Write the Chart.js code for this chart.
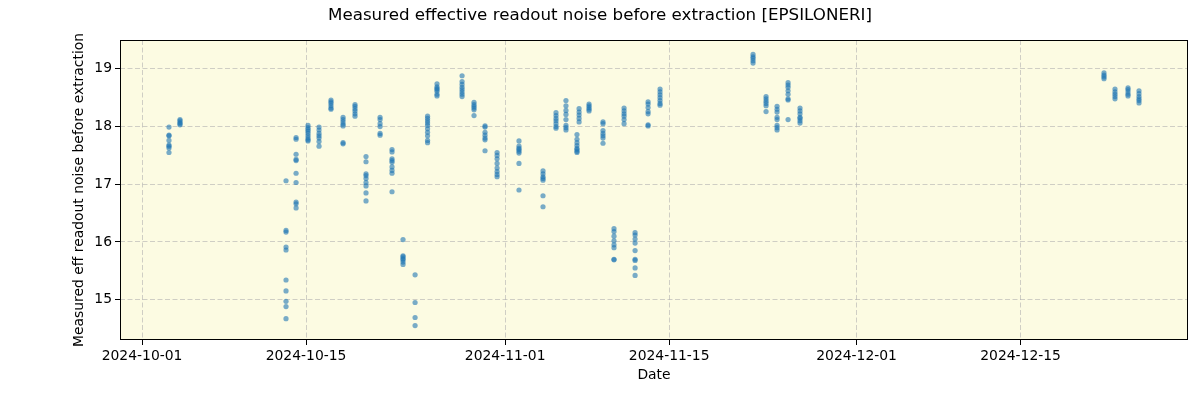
<!DOCTYPE html>
<html>
<head>
<meta charset="utf-8">
<script src="https://cdn.jsdelivr.net/npm/chart.js@4/dist/chart.umd.min.js"></script>
<style>
html,body{margin:0;padding:0;background:#fff;}
canvas{display:block;}
</style>
</head>
<body>
<canvas id="c" width="1200" height="400"></canvas>
<script>
const chartTitle = "Measured effective readout noise before extraction [EPSILONERI]";
const xTitle = "Date";
const yTitle = "Measured eff readout noise before extraction";

const nightTimes = [
  "2024-10-03T07:12","2024-10-04T05:45","2024-10-13T07:00","2024-10-14T03:36",
  "2024-10-15T04:05","2024-10-16T02:38","2024-10-17T03:07","2024-10-18T03:50",
  "2024-10-19T04:19","2024-10-20T02:53","2024-10-21T07:40","2024-10-22T08:10",
  "2024-10-23T06:43","2024-10-24T07:26","2024-10-25T09:00","2024-10-26T04:19",
  "2024-10-28T07:40","2024-10-29T08:10","2024-10-30T06:43","2024-10-31T07:26",
  "2024-11-02T04:19","2024-11-04T05:31","2024-11-05T08:10","2024-11-06T04:34",
  "2024-11-07T03:07","2024-11-07T07:26","2024-11-08T03:50","2024-11-09T08:24",
  "2024-11-10T06:58","2024-11-11T03:36","2024-11-12T02:10","2024-11-13T04:48",
  "2024-11-14T05:17","2024-11-22T03:50","2024-11-23T06:29","2024-11-24T05:02",
  "2024-11-25T03:36","2024-11-26T04:05","2024-12-22T02:53","2024-12-23T01:26",
  "2024-12-24T04:05","2024-12-25T02:38"
];

const nightNoise = [
  [17.99,17.85,17.84,17.76,17.68,17.66,17.63,17.55],
  [18.12,18.10,18.07,18.05,18.03],
  [17.06,16.20,16.17,15.91,15.86,15.34,15.15,14.97,14.88,14.67],
  [17.81,17.78,17.52,17.43,17.41,17.19,17.03,16.69,16.66,16.59],
  [18.02,17.98,17.95,17.92,17.88,17.84,17.80,17.77,17.75],
  [17.99,17.94,17.88,17.84,17.80,17.74,17.66],
  [18.46,18.43,18.40,18.36,18.32,18.30],
  [18.16,18.12,18.08,18.04,18.01,17.72,17.70],
  [18.38,18.35,18.31,18.27,18.22,18.18],
  [17.48,17.39,17.18,17.15,17.10,17.03,16.97,16.85,16.71],
  [18.16,18.12,18.05,18.00,17.88,17.85],
  [17.60,17.56,17.44,17.41,17.38,17.30,17.24,17.19,16.87],
  [16.04,15.76,15.74,15.71,15.69,15.65,15.61],
  [15.43,14.95,14.69,14.55],
  [18.18,18.14,18.10,18.06,18.02,17.96,17.90,17.84,17.76,17.72],
  [18.74,18.69,18.66,18.64,18.61,18.56,18.53],
  [18.88,18.78,18.73,18.68,18.64,18.60,18.56,18.52],
  [18.42,18.38,18.35,18.32,18.29,18.19],
  [18.01,17.99,17.90,17.85,17.80,17.77,17.58],
  [17.55,17.50,17.44,17.36,17.28,17.22,17.17,17.13],
  [17.75,17.66,17.62,17.60,17.57,17.54,17.36,16.90],
  [17.23,17.18,17.13,17.10,17.07,16.80,16.61],
  [18.24,18.19,18.14,18.10,18.05,18.00,17.97],
  [18.45,18.36,18.28,18.21,18.12,18.02,17.98,17.94],
  [17.86,17.78,17.72,17.67,17.62,17.60,17.57,17.55],
  [18.31,18.25,18.20,18.14,18.08],
  [18.39,18.36,18.33,18.30,18.27],
  [18.08,18.05,17.93,17.88,17.84,17.80,17.71],
  [16.23,16.18,16.10,16.02,15.95,15.90,15.70,15.69],
  [18.32,18.27,18.22,18.18,18.12,18.05],
  [16.16,16.12,16.05,15.98,15.85,15.70,15.68,15.55,15.42],
  [18.43,18.39,18.33,18.26,18.22,18.03,18.01],
  [18.65,18.60,18.55,18.50,18.45,18.40,18.37],
  [19.25,19.21,19.18,19.14,19.10],
  [18.52,18.48,18.44,18.40,18.36,18.26],
  [18.35,18.30,18.25,18.16,18.12,18.02,17.98,17.94],
  [18.76,18.72,18.68,18.62,18.56,18.48,18.46,18.12],
  [18.32,18.27,18.22,18.16,18.14,18.10,18.06],
  [18.93,18.89,18.86,18.83],
  [18.65,18.60,18.56,18.52,18.48],
  [18.67,18.64,18.60,18.56,18.53],
  [18.62,18.57,18.52,18.48,18.45,18.41]
];

const xTickDates = ["2024-10-01","2024-10-15","2024-11-01","2024-11-15","2024-12-01","2024-12-15"];
const yTickValues = [15,16,17,18,19];
const xRange = ["2024-09-29T02:50","2024-12-29T07:00"];
const yRange = [14.30,19.50];

const DAY = 86400000;
const origin = Date.UTC(2024,9,1);
function toDay(s){
  const [d,t] = s.split("T");
  const [Y,M,D] = d.split("-").map(Number);
  let h=0,m=0;
  if(t){[h,m]=t.split(":").map(Number);}
  return (Date.UTC(Y,M-1,D,h,m)-origin)/DAY;
}
const tickMap = {};
xTickDates.forEach(s=>{tickMap[toDay(s).toFixed(4)] = s;});

const points = [];
nightTimes.forEach((t,i)=>{
  const x = toDay(t);
  nightNoise[i].forEach(v=>points.push({x:x,y:v}));
});

const FONT = "'DejaVu Sans', sans-serif";

const deco = {
  id:'deco',
  beforeDraw(chart){
    const {ctx, chartArea:a} = chart;
    ctx.save();
    ctx.fillStyle = '#fcfbe2';
    ctx.fillRect(a.left, a.top, a.right-a.left, a.bottom-a.top);
    ctx.restore();
  },
  afterDraw(chart){
    const {ctx, chartArea:a} = chart;
    ctx.save();
    ctx.strokeStyle = '#000';
    ctx.lineWidth = 1;
    ctx.strokeRect(a.left+0.5, a.top+0.5, a.right-a.left-1, a.bottom-a.top-1);
    ctx.fillStyle = '#000';
    ctx.textAlign = 'center';
    ctx.textBaseline = 'middle';
    ctx.font = "16.7px " + FONT;
    ctx.fillText(chartTitle, 600, 16);
    ctx.font = "13.9px " + FONT;
    ctx.fillText(xTitle, (a.left+a.right)/2, 375);
    ctx.translate(79, (a.top+a.bottom)/2);
    ctx.rotate(-Math.PI/2);
    ctx.fillText(yTitle, 0, 0);
    ctx.restore();
  }
};

const gridOpts = {color:'rgba(176,176,176,0.6)', tickColor:'#000', tickBorderDash:[], tickLength:5, lineWidth:1};

new Chart(document.getElementById('c'), {
  type:'scatter',
  data:{datasets:[{
    data: points,
    backgroundColor:'rgba(31,119,180,0.6)',
    borderWidth:0,
    pointRadius:2.6,
    pointHoverRadius:2.6
  }]},
  options:{
    responsive:false,
    animation:false,
    events:[],
    layout:{padding:{top:40,right:12,left:0,bottom:0}},
    plugins:{legend:{display:false},title:{display:false},tooltip:{enabled:false}},
    scales:{
      x:{
        type:'linear',
        min: toDay(xRange[0]),
        max: toDay(xRange[1]),
        afterFit(s){ s.height = 60; },
        afterBuildTicks(s){ s.ticks = xTickDates.map(d=>({value:toDay(d)})); },
        border:{display:false, dash:[5,2.5]},
        grid:gridOpts,
        ticks:{
          color:'#000', font:{family:FONT,size:13.9}, padding:3, maxRotation:0, autoSkip:false,
          callback(v){ return tickMap[Number(v).toFixed(4)] || ''; }
        }
      },
      y:{
        type:'linear',
        min: yRange[0],
        max: yRange[1],
        afterFit(s){ s.width = 120; },
        afterBuildTicks(s){ s.ticks = yTickValues.map(v=>({value:v})); },
        border:{display:false, dash:[5,2.5]},
        grid:gridOpts,
        ticks:{color:'#000', font:{family:FONT,size:13.9}, padding:3, callback(v){ return String(v); }}
      }
    }
  },
  plugins:[deco]
});
</script>
</body>
</html>
